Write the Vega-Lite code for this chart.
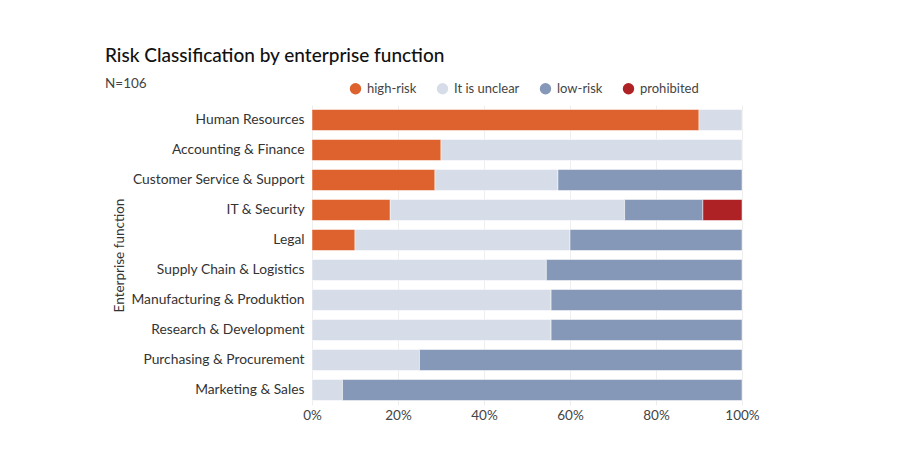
{
  "$schema": "https://vega.github.io/schema/vega-lite/v6.json",
  "autosize": "none",
  "width": 430,
  "height": 300,
  "padding": {"left": 312, "top": 105, "right": 170, "bottom": 51},
  "background": "white",
  "title": {
    "text": "Risk Classification by enterprise function",
    "subtitle": "N=106",
    "anchor": "start",
    "frame": "group",
    "dx": -207,
    "dy": 12,
    "font": "Lato",
    "fontSize": 19,
    "fontWeight": 500,
    "color": "#111111",
    "subtitleFont": "Lato",
    "subtitleFontSize": 13.5,
    "subtitleColor": "#444444",
    "subtitlePadding": 11
  },
  "data": {
    "values": [
      {"function": "Human Resources", "risk": "high-risk", "share": 90},
      {"function": "Human Resources", "risk": "It is unclear", "share": 10},
      {"function": "Accounting & Finance", "risk": "high-risk", "share": 30},
      {"function": "Accounting & Finance", "risk": "It is unclear", "share": 70},
      {"function": "Customer Service & Support", "risk": "high-risk", "share": 28.6},
      {"function": "Customer Service & Support", "risk": "It is unclear", "share": 28.6},
      {"function": "Customer Service & Support", "risk": "low-risk", "share": 42.8},
      {"function": "IT & Security", "risk": "high-risk", "share": 18.2},
      {"function": "IT & Security", "risk": "It is unclear", "share": 54.5},
      {"function": "IT & Security", "risk": "low-risk", "share": 18.2},
      {"function": "IT & Security", "risk": "prohibited", "share": 9.1},
      {"function": "Legal", "risk": "high-risk", "share": 10},
      {"function": "Legal", "risk": "It is unclear", "share": 50},
      {"function": "Legal", "risk": "low-risk", "share": 40},
      {"function": "Supply Chain & Logistics", "risk": "It is unclear", "share": 54.5},
      {"function": "Supply Chain & Logistics", "risk": "low-risk", "share": 45.5},
      {"function": "Manufacturing & Produktion", "risk": "It is unclear", "share": 55.6},
      {"function": "Manufacturing & Produktion", "risk": "low-risk", "share": 44.4},
      {"function": "Research & Development", "risk": "It is unclear", "share": 55.6},
      {"function": "Research & Development", "risk": "low-risk", "share": 44.4},
      {"function": "Purchasing & Procurement", "risk": "It is unclear", "share": 25},
      {"function": "Purchasing & Procurement", "risk": "low-risk", "share": 75},
      {"function": "Marketing & Sales", "risk": "It is unclear", "share": 7.1},
      {"function": "Marketing & Sales", "risk": "low-risk", "share": 92.9}
    ]
  },
  "transform": [
    {"calculate": "indexof(['high-risk', 'It is unclear', 'low-risk', 'prohibited'], datum.risk)", "as": "stackOrder"}
  ],
  "mark": {"type": "bar", "stroke": "white", "strokeWidth": 0.5},
  "encoding": {
    "y": {
      "field": "function",
      "type": "nominal",
      "sort": [
        "Human Resources", "Accounting & Finance", "Customer Service & Support",
        "IT & Security", "Legal", "Supply Chain & Logistics",
        "Manufacturing & Produktion", "Research & Development",
        "Purchasing & Procurement", "Marketing & Sales"
      ],
      "scale": {"paddingInner": 0.3, "paddingOuter": 0.15},
      "axis": {
        "title": "Enterprise function",
        "titleFont": "Lato",
        "titleFontSize": 13.5,
        "titleFontWeight": "normal",
        "titleColor": "#333333",
        "titlePadding": 5,
        "labelFont": "Lato",
        "labelFontSize": 13.8,
        "labelColor": "#333333",
        "labelPadding": 8,
        "ticks": false,
        "domain": false,
        "grid": false
      }
    },
    "x": {
      "field": "share",
      "type": "quantitative",
      "stack": "normalize",
      "scale": {"domain": [0, 1]},
      "axis": {
        "title": null,
        "format": ".0%",
        "values": [0, 0.2, 0.4, 0.6, 0.8, 1],
        "labelFont": "Lato",
        "labelFontSize": 13.5,
        "labelColor": "#444444",
        "labelPadding": 3,
        "labelFlush": false,
        "ticks": false,
        "domain": false,
        "grid": true,
        "gridColor": "#eeeeee",
        "gridWidth": 1
      }
    },
    "color": {
      "field": "risk",
      "type": "nominal",
      "scale": {
        "domain": ["high-risk", "It is unclear", "low-risk", "prohibited"],
        "range": ["#DD622D", "#D6DDE8", "#8598B8", "#AE2226"]
      },
      "legend": {
        "title": null,
        "orient": "none",
        "legendX": 37,
        "legendY": -23,
        "direction": "horizontal",
        "symbolType": "circle",
        "symbolSize": 130,
        "symbolStrokeWidth": 0,
        "labelFont": "Lato",
        "labelFontSize": 13,
        "labelColor": "#444444",
        "labelOffset": 5,
        "columnPadding": 19
      }
    },
    "order": {"field": "stackOrder", "type": "quantitative"}
  },
  "config": {"view": {"stroke": null}}
}
